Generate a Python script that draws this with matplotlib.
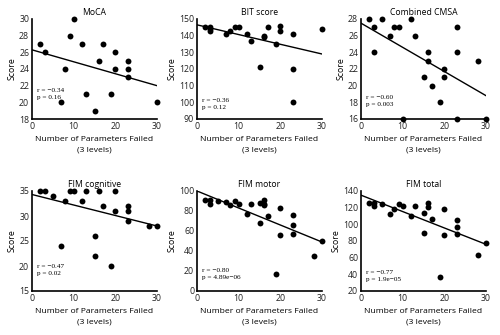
import matplotlib.pyplot as plt
import numpy as np

plt.rcParams['font.family'] = ['Open Sans', 'DejaVu Sans']

titles = ['MoCA', 'BIT score', 'Combined CMSA', 'FIM cognitive', 'FIM motor', 'FIM total']
stats = ['r = \u22120.34\np = 0.16', 'r = \u22120.36\np = 0.12', 'r = \u22120.60\np = 0.003',
         'r = \u22120.47\np = 0.02', 'r = \u22120.80\np = 4.89e\u221206', 'r = \u22120.77\np = 1.9e\u221205']

moca_x = [2, 3, 7, 8, 9, 10, 12, 13, 15, 16, 17, 19, 20, 20, 23, 23, 23, 30]
moca_y = [27, 26, 20, 24, 28, 30, 27, 21, 19, 25, 27, 21, 26, 24, 25, 24, 23, 20]
bit_x = [2, 3, 3, 3, 7, 8, 9, 10, 12, 13, 15, 16, 16, 17, 19, 20, 20, 23, 23, 23, 30]
bit_y = [145, 145, 144, 143, 141, 143, 145, 145, 141, 137, 121, 140, 139, 145, 135, 146, 143, 141, 120, 100, 144]
cmsa_x = [2, 3, 3, 5, 7, 8, 9, 10, 12, 13, 15, 16, 16, 17, 19, 20, 20, 23, 23, 23, 28, 30]
cmsa_y = [28, 27, 24, 28, 26, 27, 27, 16, 28, 26, 21, 24, 23, 20, 18, 22, 21, 27, 24, 16, 23, 16]
cog_x = [2, 3, 5, 7, 8, 9, 10, 12, 13, 15, 15, 16, 17, 19, 20, 20, 23, 23, 23, 28, 30]
cog_y = [35, 35, 34, 24, 33, 35, 35, 33, 35, 26, 22, 35, 32, 20, 35, 31, 32, 31, 29, 28, 28]
mot_x = [2, 3, 3, 5, 7, 8, 9, 10, 12, 13, 15, 15, 16, 16, 16, 17, 19, 20, 20, 23, 23, 23, 28, 30]
mot_y = [91, 91, 87, 90, 89, 86, 90, 87, 77, 87, 88, 68, 91, 87, 86, 75, 17, 83, 56, 76, 66, 57, 35, 50]
tot_x = [2, 3, 3, 5, 7, 8, 9, 10, 12, 13, 15, 15, 16, 16, 17, 19, 20, 20, 23, 23, 23, 28, 30]
tot_y = [126, 126, 122, 124, 113, 119, 125, 122, 110, 122, 114, 90, 126, 121, 107, 37, 118, 87, 105, 97, 89, 63, 78]

# fitted line end values at x = 0 and x = 30
line_ends = [(26.3, 22.0), (146.5, 129.0), (27.5, 18.8), (34.3, 28.0), (100, 49), (135, 76)]
ylims = [(18, 30), (90, 150), (16, 28), (15, 35), (0, 100), (20, 140)]
yticks = [np.arange(18, 31, 2), np.arange(90, 151, 10), np.arange(16, 29, 2),
          np.arange(15, 36, 5), np.arange(0, 101, 20), np.arange(20, 141, 20)]
stat_y = [0.19, 0.09, 0.12, 0.15, 0.11, 0.09]

xs = [moca_x, bit_x, cmsa_x, cog_x, mot_x, tot_x]
ys = [moca_y, bit_y, cmsa_y, cog_y, mot_y, tot_y]

fig = plt.figure(figsize=(5, 3.35), dpi=100)
lefts = [32, 197, 361]
bottoms = [335 - 119, 335 - 291]
w, h = 125, 100

for i in range(6):
    ax = fig.add_axes([lefts[i % 3] / 500, bottoms[i // 3] / 335, w / 500, h / 335])
    ax.scatter(xs[i], ys[i], s=18, color='black', zorder=3, clip_on=False, lw=0)
    ax.plot([0, 30], line_ends[i], color='black', lw=1)
    ax.set_xlim(0, 30)
    ax.set_ylim(*ylims[i])
    ax.set_xticks([0, 10, 20, 30])
    ax.set_yticks(yticks[i])
    ax.spines['top'].set_visible(False)
    ax.spines['right'].set_visible(False)
    for s in ['left', 'bottom']:
        ax.spines[s].set_linewidth(1.2)
    ax.tick_params(length=0, labelsize=6.3, pad=2, colors='#222222')
    ax.set_title(titles[i], fontsize=6.2, pad=3)
    ax.set_ylabel('Score', fontsize=6.3, labelpad=2)
    ax.set_xlabel('Number of Parameters Failed\n(3 levels)', fontsize=6.1, labelpad=4,
                  linespacing=1.6)
    ax.text(0.04, stat_y[i], stats[i], transform=ax.transAxes, fontsize=5.2,
            family='Liberation Serif', va='bottom', linespacing=1.5)

fig.savefig('out.png', dpi=100)
